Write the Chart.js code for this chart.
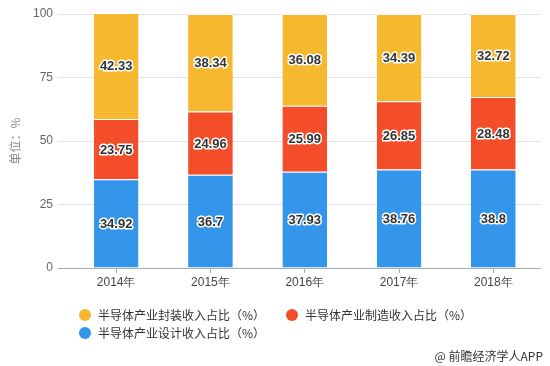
<!DOCTYPE html>
<html>
<head>
<meta charset="utf-8">
<script src="https://cdn.jsdelivr.net/npm/chart.js@4/dist/chart.umd.min.js"></script>
<style>
  html, body { margin: 0; padding: 0; background: #fff; }
  #wrap { position: relative; width: 550px; height: 366px; font-family: "Microsoft YaHei", "Noto Sans CJK SC", sans-serif; }
  canvas { position: absolute; left: 0; top: 0; }
  .leg { position: absolute; font-size: 12px; color: #333; line-height: 14px; white-space: nowrap; }
  .dot { position: absolute; width: 12px; height: 12px; border-radius: 50%; }
  #src { position: absolute; right: 7px; top: 347px; font-size: 12px; color: #333; white-space: nowrap; }
</style>
</head>
<body>
<div id="wrap">
  <canvas id="c" width="550" height="366"></canvas>
  <div class="dot" style="left:79px;top:309px;background:#F5B82E"></div>
  <div class="leg" style="left:98px;top:308px">半导体产业封装收入占比（%）</div>
  <div class="dot" style="left:286px;top:309px;background:#F34D2A"></div>
  <div class="leg" style="left:305px;top:308px">半导体产业制造收入占比（%）</div>
  <div class="dot" style="left:79px;top:327px;background:#3496EA"></div>
  <div class="leg" style="left:98px;top:326px">半导体产业设计收入占比（%）</div>
  <div id="src">@ 前瞻经济学人APP</div>
</div>
<script>
const categories = ["2014年", "2015年", "2016年", "2017年", "2018年"];
const designShare = [34.92, 36.7, 37.93, 38.76, 38.8];
const manufShare = [23.75, 24.96, 25.99, 26.85, 28.48];
const packShare = [42.33, 38.34, 36.08, 34.39, 32.72];
const yTicks = [0, 25, 50, 75, 100];
const seriesNames = ["半导体产业设计收入占比（%）", "半导体产业制造收入占比（%）", "半导体产业封装收入占比（%）"];
const yTitle = "单位：%";

const labelPlugin = {
  id: 'barLabels',
  afterDatasetsDraw(chart) {
    const ctx = chart.ctx;
    ctx.save();
    ctx.font = 'bold 13px "Liberation Sans", Arial, sans-serif';
    ctx.textAlign = 'center';
    ctx.textBaseline = 'middle';
    ctx.lineJoin = 'round';
    chart.data.datasets.forEach((ds, i) => {
      const meta = chart.getDatasetMeta(i);
      meta.data.forEach((bar, j) => {
        const y = (bar.y + bar.base) / 2;
        const t = String(ds.data[j]);
        ctx.lineWidth = 3;
        ctx.strokeStyle = '#fff';
        ctx.strokeText(t, bar.x, y + 1);
        ctx.fillStyle = '#333';
        ctx.fillText(t, bar.x, y + 1);
      });
    });
    ctx.restore();
  }
};

new Chart(document.getElementById('c'), {
  type: 'bar',
  data: {
    labels: categories,
    datasets: [
      { label: seriesNames[0], data: designShare, backgroundColor: '#3496EA' },
      { label: seriesNames[1], data: manufShare, backgroundColor: '#F34D2A' },
      { label: seriesNames[2], data: packShare, backgroundColor: '#F5B82E' }
    ].map(d => Object.assign(d, { borderColor: '#fff', borderWidth: { top: 1 }, borderSkipped: 'bottom', categoryPercentage: 1, barPercentage: 0.474 }))
  },
  options: {
    responsive: false,
    animation: false,
    layout: { padding: { left: 8, right: 9.5, top: 14, bottom: 68 } },
    plugins: { legend: { display: false }, tooltip: { enabled: false } },
    scales: {
      x: {
        stacked: true,
        afterFit(s) { s.height = 30; },
        grid: { offset: false, drawOnChartArea: false, drawTicks: true, tickLength: 5, color: '#aaa' },
        border: { display: true, color: '#aaa' },
        ticks: { color: '#444', font: { size: 12, family: '"Liberation Sans", Arial, sans-serif' }, padding: 2 }
      },
      y: {
        stacked: true,
        min: 0, max: 100,
        afterBuildTicks(s) { s.ticks = yTicks.map(v => ({ value: v })); },
        afterFit(s) { s.width = 69 - 8; },
        grid: { color: (c) => c.tick && c.tick.value === 0 ? '#aaa' : '#e3e3e3', tickLength: 11, drawTicks: true },
        border: { display: false },
        ticks: { color: '#666', padding: 5, font: { size: 12, family: '"Liberation Sans", Arial, sans-serif' } },
        title: { display: true, text: yTitle, color: '#888', font: { size: 12, family: '"Noto Sans CJK SC", sans-serif' }, padding: { top: 0, bottom: 0 } }
      }
    }
  },
  plugins: [labelPlugin]
});
</script>
</body>
</html>
